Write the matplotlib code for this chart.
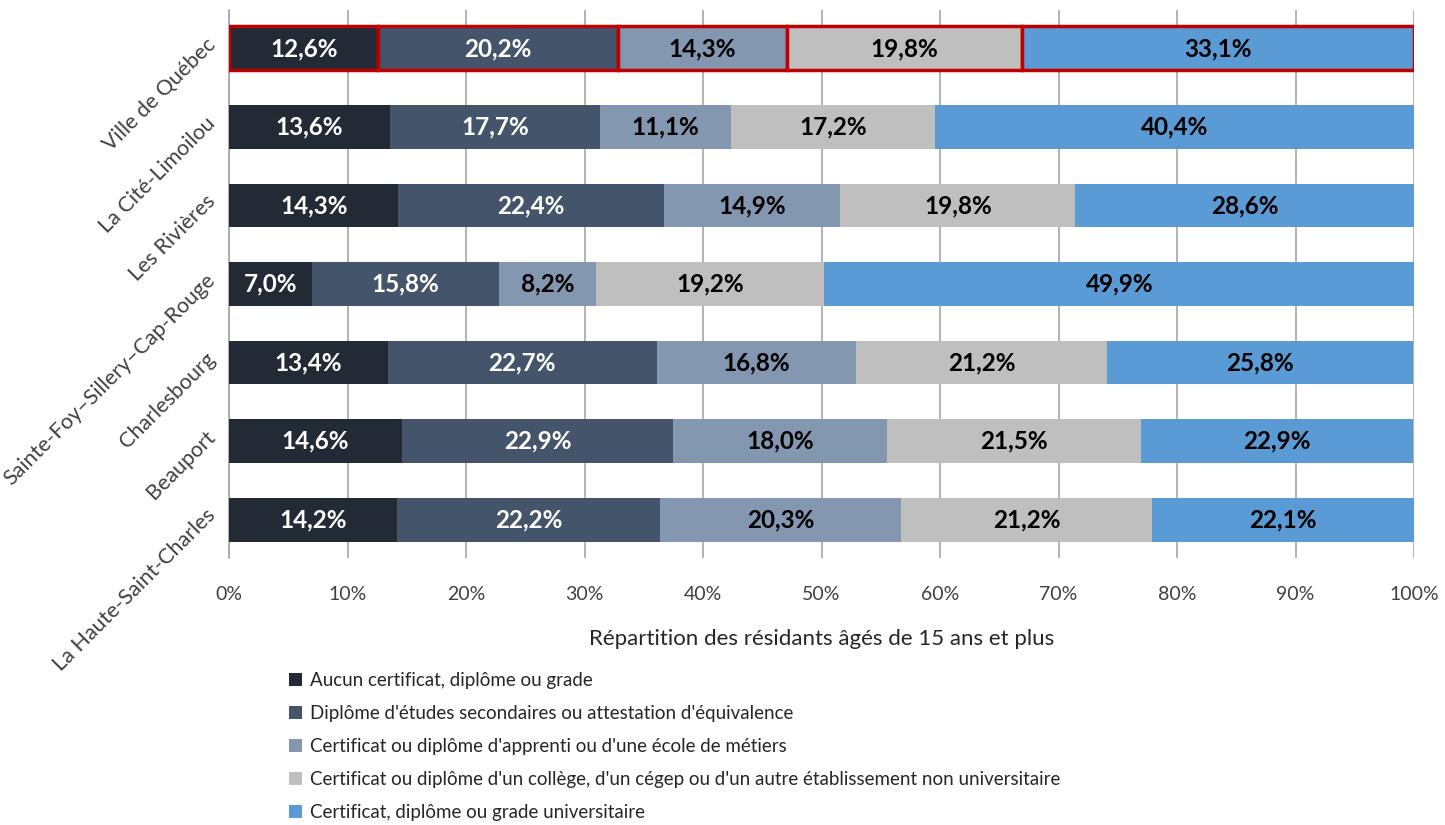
import matplotlib.pyplot as plt
from matplotlib.patches import Patch
from matplotlib.transforms import ScaledTranslation
import numpy as np

plt.rcParams['font.family'] = ['Lato', 'DejaVu Sans']

# Arrondissements, du haut vers le bas
quartiers = ['Ville de Québec', 'La Cité-Limoilou', 'Les Rivières',
             'Sainte-Foy–Sillery–Cap-Rouge', 'Charlesbourg', 'Beauport',
             'La Haute-Saint-Charles']

niveaux = ['Aucun certificat, diplôme ou grade',
           "Diplôme d'études secondaires ou attestation d'équivalence",
           "Certificat ou diplôme d'apprenti ou d'une école de métiers",
           "Certificat ou diplôme d'un collège, d'un cégep ou d'un autre établissement non universitaire",
           'Certificat, diplôme ou grade universitaire']

aucun = [12.6, 13.6, 14.3, 7.0, 13.4, 14.6, 14.2]
secondaire = [20.2, 17.7, 22.4, 15.8, 22.7, 22.9, 22.2]
metiers = [14.3, 11.1, 14.9, 8.2, 16.8, 18.0, 20.3]
college = [19.8, 17.2, 19.8, 19.2, 21.2, 21.5, 21.2]
universite = [33.1, 40.4, 28.6, 49.9, 25.8, 22.9, 22.1]

couleurs = ['#222a35', '#44546a', '#8497b0', '#bfbfbf', '#5b9bd5']
couleurs_texte = ['white', 'white', 'black', 'black', 'black']

series = [aucun, secondaire, metiers, college, universite]

fig = plt.figure(figsize=(14.45, 8.25), dpi=100)
ax = fig.add_axes([229 / 1445, 1 - 558 / 825, 1185 / 1445, 548 / 825])

y = np.arange(len(quartiers))
gauche = np.zeros(len(quartiers))
for vals, coul, ctxt in zip(series, couleurs, couleurs_texte):
    vals = np.array(vals)
    barres = ax.barh(y, vals, left=gauche, height=0.56, color=coul, zorder=3)
    # la ville entière est encadrée en rouge
    barres[0].set_edgecolor('#c00000')
    barres[0].set_linewidth(2.5)
    for yi, g, v in zip(y, gauche, vals):
        ax.text(g + v / 2, yi, f'{v:.1f}%'.replace('.', ','), ha='center',
                va='center', color=ctxt, fontsize=17.5, fontweight='bold',
                zorder=4)
    gauche += vals

ax.set_xlim(0, 100)
ax.set_ylim(6.49, -0.49)
ax.set_xticks(np.arange(0, 101, 10))
ax.set_xticklabels([f'{t}%' for t in range(0, 101, 10)], fontsize=14,
                   color='#404040')
ax.tick_params(axis='x', length=0, pad=20)
ax.xaxis.grid(True, color='#a6a6a6', linewidth=1.2, zorder=0)

ax.set_yticks(y)
ax.set_yticklabels(quartiers, rotation=45, ha='right', va='center',
                   rotation_mode='anchor', fontsize=15.5, color='#404040')
ax.tick_params(axis='y', length=0, pad=12)
# remonte un peu les étiquettes inclinées
decalage = ScaledTranslation(0, 5 / 72, fig.dpi_scale_trans)
for lbl in ax.get_yticklabels():
    lbl.set_transform(lbl.get_transform() + decalage)

for s in ['top', 'right', 'bottom']:
    ax.spines[s].set_visible(False)
ax.spines['left'].set_color('#a6a6a6')
ax.spines['left'].set_linewidth(1.2)

ax.set_xlabel('Répartition des résidants âgés de 15 ans et plus',
              fontsize=16, color='#262626', labelpad=19)

poignees = [Patch(facecolor=c, edgecolor='none') for c in couleurs]
fig.legend(poignees, niveaux, loc='upper left',
           bbox_to_anchor=(272 / 1445, 1 - 655 / 825), frameon=False,
           fontsize=13.5, handlelength=0.7, handleheight=0.7,
           handletextpad=0.45, labelspacing=0.86, labelcolor='#262626')

fig.savefig('out.png', dpi=100)
